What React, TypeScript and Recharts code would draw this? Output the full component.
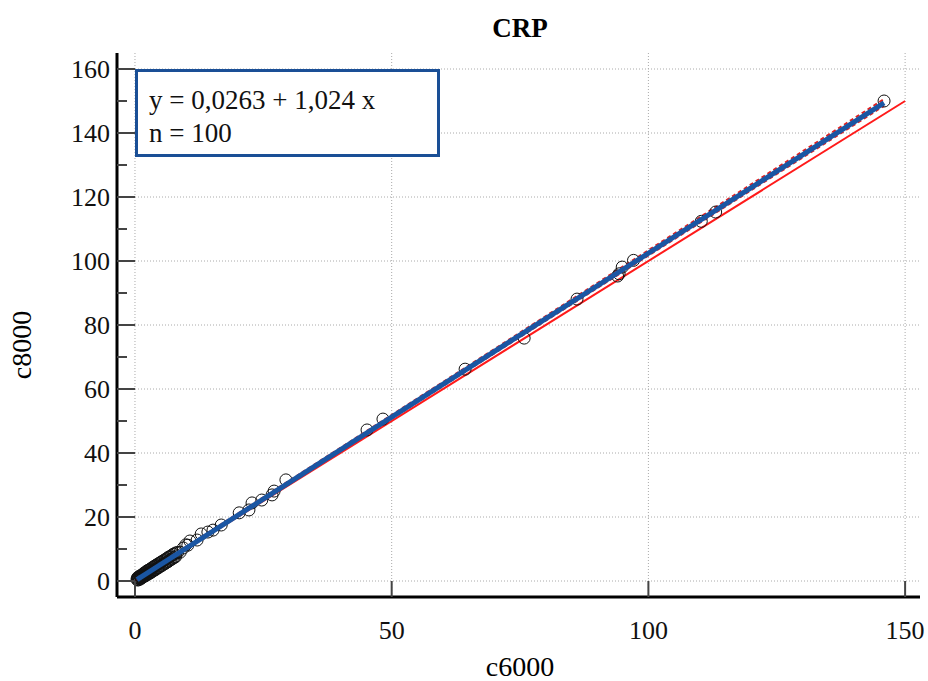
import React from 'react';
import {
  ScatterChart,
  Scatter,
  XAxis,
  YAxis,
  ReferenceLine,
} from 'recharts';

// c6000 / c8000 pairs (100 samples)
const c6000 = [
  0.4, 0.5, 0.5, 0.6, 0.7, 0.7, 0.8, 0.9, 1.0, 1.0, 1.1, 1.2, 1.3, 1.3, 1.4, 1.5, 1.6, 1.7, 1.8, 1.9,
  2.0, 2.1, 2.2, 2.2, 2.3, 2.4, 2.5, 2.6, 2.7, 2.8, 2.9, 3.0, 3.1, 3.2, 3.3, 3.4, 3.5, 3.6, 3.7, 3.8,
  3.9, 4.0, 4.1, 4.2, 4.4, 4.5, 4.6, 4.8, 4.9, 5.0, 5.2, 5.3, 5.5, 5.6, 5.8, 5.9, 6.1, 6.2, 6.4, 6.5,
  6.7, 6.8, 7.0, 7.1, 7.3, 7.4, 7.6, 7.7, 7.9, 8.0,
  8.3, 8.8, 9.4, 9.9, 10.3, 10.7, 12.1, 12.9, 14.2, 15.2, 16.8, 20.3, 22.2, 22.8, 24.7, 26.7, 27.1, 29.4,
  45.2, 48.3, 64.3, 75.8, 86.1, 94.0, 94.3, 94.9, 97.1, 110.3, 113.1, 145.9,
];
const c8000 = [
  0.6, 0.3, 1.0, 0.9, 0.4, 1.3, 1.1, 0.8, 0.6, 1.6, 1.4, 0.9, 1.8, 1.0, 1.9, 1.2, 2.2, 1.4, 2.5, 1.6,
  2.6, 1.7, 2.9, 1.9, 2.2, 3.2, 2.2, 3.3, 2.3, 3.5, 2.5, 3.7, 2.7, 3.9, 3.0, 4.2, 3.1, 4.3, 3.4, 4.6,
  3.5, 4.8, 3.7, 5.0, 4.1, 5.3, 4.2, 5.6, 4.6, 5.8, 4.8, 6.1, 5.2, 6.4, 5.4, 6.7, 5.8, 7.0, 6.0, 7.4,
  6.4, 7.6, 6.7, 7.9, 7.0, 8.3, 7.3, 8.5, 7.6, 8.8,
  8.9, 9.0, 10.3, 11.3, 11.2, 12.5, 12.8, 14.7, 15.3, 15.9, 17.5, 21.3, 22.2, 24.4, 25.3, 26.9, 28.1, 31.6,
  47.2, 50.6, 66.2, 75.9, 88.1, 95.3, 96.0, 98.1, 100.2, 112.4, 115.3, 150.0,
];

const points = c6000.map((x, i) => ({ x, y: c8000[i] }));

// line of identity
const identityX = [0, 150];
// regression y = 0,0263 + 1,024 x over the data range
const intercept = 0.0263;
const slope = 1.024;
const fitX = [0.4, 145.9];
// 95% CI of the fit, end values
const ciUpperY = [0.85, 150.6];
const ciLowerY = [0.2, 148.5];

const xTicks = [0, 50, 100, 150];
const yTicks = [0, 10, 20, 30, 40, 50, 60, 70, 80, 90, 100, 110, 120, 130, 140, 150, 160];
const yGrid = [0, 20, 40, 60, 80, 100, 120, 140, 160];

const identityLine = identityX.map((x) => ({ x, y: x }));
const fitLine = fitX.map((x) => ({ x, y: intercept + slope * x }));
const ciUpper = fitX.map((x, i) => ({ x, y: ciUpperY[i] }));
const ciLower = fitX.map((x, i) => ({ x, y: ciLowerY[i] }));

const FONT = '"Liberation Serif", "Times New Roman", serif';

const YTick = (props: any) => {
  const { x, y, payload } = props;
  const major = payload.value % 20 === 0;
  return (
    <g>
      <line x1={x} x2={x + (major ? 18 : 10)} y1={y} y2={y} stroke="#444" strokeWidth={2} />
      {major && (
        <text x={x - 7} y={y} dy="0.35em" textAnchor="end" fontFamily={FONT} fontSize={26} fill="#111">
          {payload.value}
        </text>
      )}
    </g>
  );
};

const XTick = (props: any) => {
  const { x, y, payload } = props;
  return (
    <g>
      <line x1={x} x2={x} y1={y} y2={y - 16} stroke="#444" strokeWidth={2} />
      <text x={x} y={y + 42} textAnchor="middle" fontFamily={FONT} fontSize={26} fill="#111">
        {payload.value}
      </text>
    </g>
  );
};

const Hollow = (props: any) => (
  <circle cx={props.cx} cy={props.cy} r={6} fill="none" stroke="#111" strokeWidth={1} />
);

const NoDot = () => <g />;

export default function App() {
  return (
    <div style={{ position: 'absolute', left: 0, top: 0, width: 928, height: 681, background: '#fff' }}>
      <ScatterChart width={928} height={681} margin={{ top: 53, right: 8, bottom: 44, left: 57 }}>
        <XAxis
          type="number"
          dataKey="x"
          domain={[-3.5, 152.9]}
          ticks={xTicks}
          interval={0}
          height={40}
          tickSize={0}
          tickMargin={0}
          tickLine={false}
          axisLine={{ stroke: '#000', strokeWidth: 3 }}
          tick={<XTick />}
          allowDataOverflow
        />
        <YAxis
          type="number"
          dataKey="y"
          domain={[-5, 165]}
          ticks={yTicks}
          interval={0}
          width={60}
          tickSize={0}
          tickMargin={0}
          tickLine={false}
          axisLine={{ stroke: '#000', strokeWidth: 3 }}
          tick={<YTick />}
          allowDataOverflow
        />
        {yGrid.map((v) => (
          <ReferenceLine key={'h' + v} y={v} stroke="#aaa" strokeDasharray="1 2" />
        ))}
        {xTicks.map((v) => (
          <ReferenceLine key={'v' + v} x={v} stroke="#aaa" strokeDasharray="1 2" />
        ))}
        <Scatter data={identityLine} shape={NoDot} line={{ stroke: '#ff1a1a', strokeWidth: 2 }} isAnimationActive={false} />
        <Scatter data={ciUpper} shape={NoDot} line={{ stroke: '#e02020', strokeWidth: 2, strokeDasharray: '4 3' }} isAnimationActive={false} />
        <Scatter data={ciLower} shape={NoDot} line={{ stroke: '#e02020', strokeWidth: 2, strokeDasharray: '4 3' }} isAnimationActive={false} />
        <Scatter data={points} shape={Hollow} isAnimationActive={false} />
        <Scatter data={fitLine} shape={NoDot} line={{ stroke: '#1a56a3', strokeWidth: 5 }} isAnimationActive={false} />
      </ScatterChart>

      <div style={{ position: 'absolute', left: 0, width: 928, top: 12, textAlign: 'center', fontFamily: FONT, fontWeight: 'bold', fontSize: 27, lineHeight: '32px', paddingLeft: 112, boxSizing: 'border-box' }}>
        CRP
      </div>
      <div
        style={{
          position: 'absolute',
          left: 135,
          top: 69,
          width: 305,
          height: 88,
          border: '3px solid #1a4f96',
          boxSizing: 'border-box',
          background: '#fff',
          fontFamily: FONT,
          fontSize: 27,
          color: '#111',
          padding: '12px 0 0 11px',
          lineHeight: '33px',
          whiteSpace: 'nowrap',
        }}
      >
        <div>y = 0,0263 + 1,024 x</div>
        <div>n = 100</div>
      </div>
      <div style={{ position: 'absolute', left: 0, width: 928, top: 651, lineHeight: '32px', textAlign: 'center', fontFamily: FONT, fontSize: 28, paddingLeft: 112, boxSizing: 'border-box' }}>
        c6000
      </div>
      <div
        style={{
          position: 'absolute',
          left: 22,
          top: 345,
          transform: 'translate(-50%, -50%) rotate(-90deg)',
          fontFamily: FONT,
          fontSize: 28,
          lineHeight: '32px',
        }}
      >
        c8000
      </div>
    </div>
  );
}
